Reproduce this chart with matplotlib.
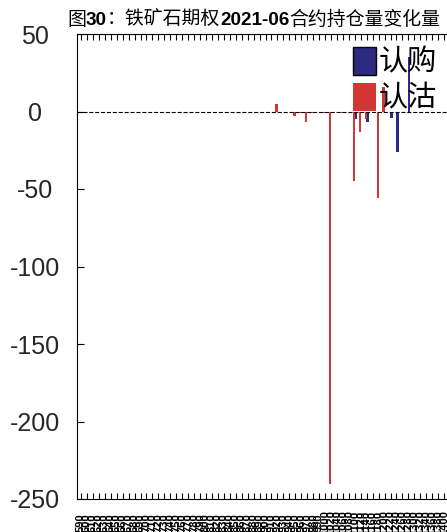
import matplotlib
matplotlib.use('Agg')
import matplotlib.pyplot as plt
import numpy as np

# 行权价（类别）
strikes = list(range(590, 1001, 10)) + list(range(1020, 1401, 20))

# 认购 / 认沽 持仓量变化量
call_chg = [0, 0, 0, 0, 0, 0, 0, 0, 0, 0,
            0, 0, 0, 0, 0, 0, 0, 0, 0, 0,
            0, 0, 0, 0, 0, 0, 0, 0, 0, 0,
            0, 0, 0, 0, 0, 0, 0, 0, 0, 0,
            0, 0, 0, 0, 0, 0, -5, 0, -7, 0,
            0, 0, -4, -26, 0, 35, 0, 0, 0, 0,
            0, 0]
put_chg = [0, 0, 0, 0, 0, 0, 0, 0, 0, 0,
           0, 0, 0, 0, 0, 0, 0, 0, 0, 0,
           0, 0, 0, 0, 0, 0, 0, 0, 0, 0,
           0, 0, 0, 5, 0, 0, -3, -1, -7, -1,
           0, -1, -240, 0, -1, 0, -45, -13, -5, 0,
           -56, 16, 0, 0, 0, 0, 0, 0, 0, 0,
           0, 0]

title_parts = [('图', 'normal'), ('30', 'bold'), ('：铁矿石期权', 'normal'),
               ('2021-06', 'bold'), ('合约持仓量变化量', 'normal')]

plt.rcParams['font.family'] = ['Liberation Sans', 'Noto Sans CJK SC', 'DejaVu Sans']
plt.rcParams['axes.unicode_minus'] = False

W, H = 447, 532
fig = plt.figure(figsize=(W / 100, H / 100), dpi=100)
ax = fig.add_axes([77 / W, 1 - 499 / H, (456 - 77) / W, (499 - 34) / H])

x = np.arange(len(strikes))
ax.bar(x + 0.15, call_chg, 0.4, color='#2e2a80', label='认购')
ax.bar(x - 0.15, put_chg, 0.4, color='#d43535', label='认沽')
ax.axhline(0, color='k', ls='--', lw=0.8)

ax.set_xlim(-0.67, 63)
ax.set_ylim(-250, 50)
ax.set_yticks(range(-250, 51, 50))
ax.set_xticks(x)
ax.set_xticklabels([str(s) for s in strikes], rotation=90, fontsize=8, fontweight='bold')
ax.tick_params(axis='x', direction='in', top=True, length=4, pad=17)
ax.tick_params(axis='y', direction='in', length=5, labelsize=18, pad=30, labelcolor='#262626')
plt.setp(ax.get_xticklabels(), va='center')
plt.setp(ax.get_yticklabels(), ha='center')

leg = ax.legend(loc='upper left', bbox_to_anchor=(353 / W, 1 - 47 / H),
                bbox_transform=fig.transFigure, frameon=False, fontsize=21,
                handlelength=0.78, handleheight=1.1, handletextpad=0.1,
                labelspacing=0.2, borderpad=0, borderaxespad=0)
leg.legend_handles[0].set_edgecolor('k')

# 标题：中文常规 + 数字加粗，逐段拼接
renderer = fig.canvas.get_renderer()
xpos = 67
for s, w in title_parts:
    t = fig.text(xpos / W, 1 - 25 / H, s, fontsize=13.6, fontweight=w,
                 va='baseline', ha='left')
    xpos = t.get_window_extent(renderer).x1

fig.savefig('out.png', dpi=100)
